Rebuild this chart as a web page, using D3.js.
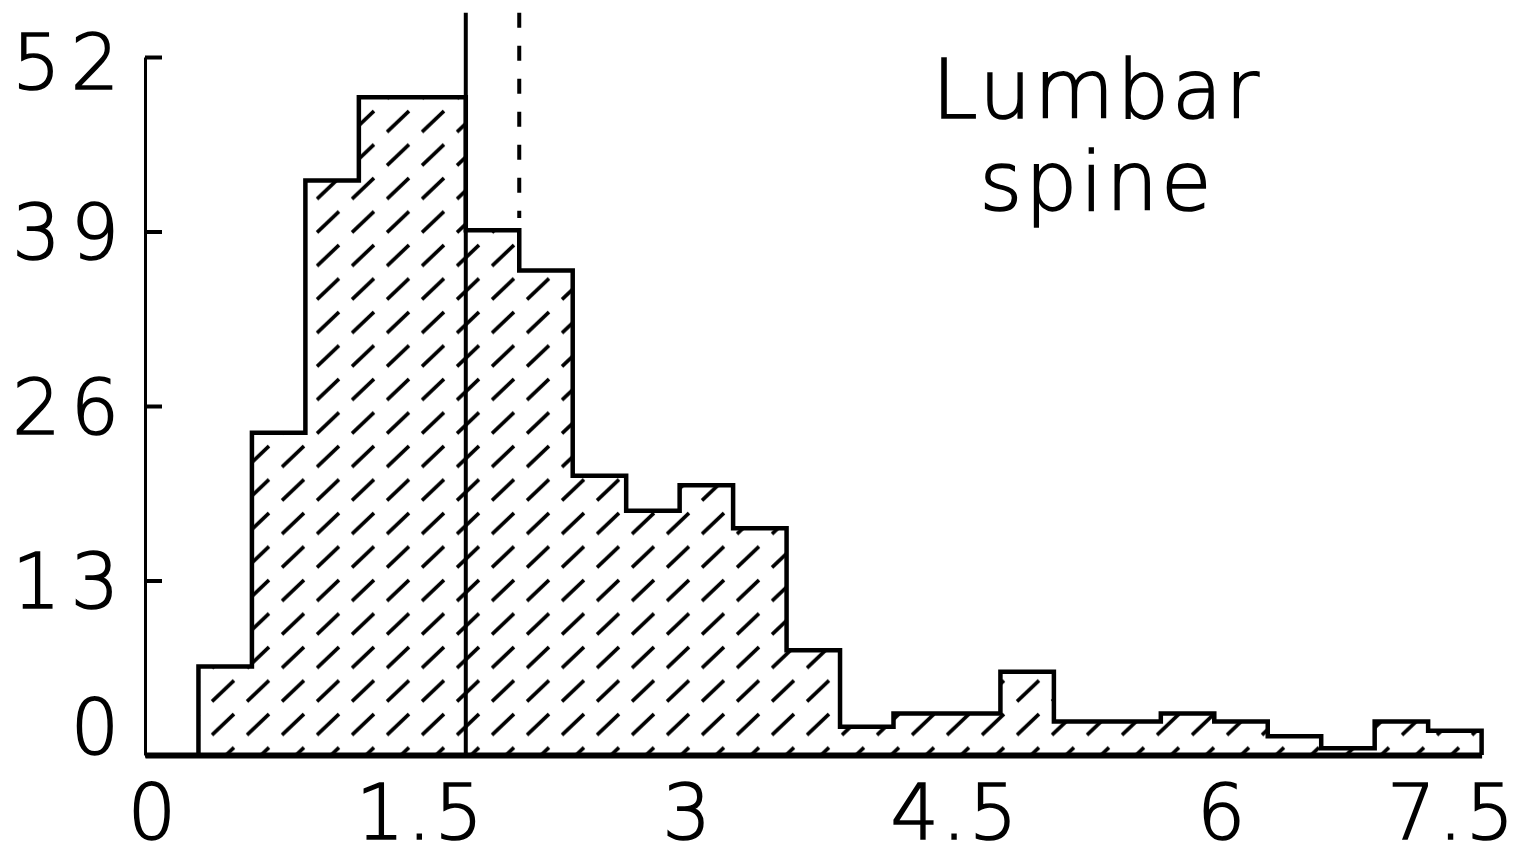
<!DOCTYPE html>
<meta charset="utf-8">
<style>
body { margin: 0; background: #fff; }
text { font-family: "DejaVu Sans", sans-serif; font-weight: 200; fill: #000; stroke: #000; stroke-width: 1.6px; }
.axis text { font-size: 76px; }
.axis path, .axis line { stroke: #000; }
</style>
<svg width="1527" height="856"></svg>
<script src="https://d3js.org/d3.v7.min.js"></script>
<script>

// histogram bins (lower edge, width 0.3) and heights
var binStarts = [0.3, 0.6, 0.9, 1.2, 1.5, 1.8, 2.1, 2.4, 2.7, 3.0, 3.3, 3.6,
                 3.9, 4.2, 4.5, 4.8, 5.1, 5.4, 5.7, 6.0, 6.3, 6.6, 6.9, 7.2];
var binWidth = 0.3;
var counts = [6.6, 24, 42.8, 49, 49, 39.1, 36.1, 20.8, 18.2, 20.1, 16.9, 7.8,
              2.1, 3.1, 3.1, 6.2, 2.5, 2.5, 3.1, 2.5, 1.4, 0.5, 2.5, 1.8];

var xTicks = [0, 1.5, 3, 4.5, 6, 7.5];
var yTicks = [0, 13, 26, 39, 52];

// vertical reference lines
var solidMarker = 1.8;
var dashedMarker = 2.1;
var markerTop = 55.3;
var dashedBottom = 40;

var labelLines = ["Lumbar", "spine"];

var svg = d3.select("svg");

var x = d3.scaleLinear().domain([0, 7.5]).range([145, 1481.6]);
var y = d3.scaleLinear().domain([0, 52]).range([755, 57]);

var defs = svg.append("defs");
var pat = defs.append("pattern")
    .attr("id", "hatch")
    .attr("patternUnits", "userSpaceOnUse")
    .attr("x", 34).attr("y", 4.5)
    .attr("width", 35).attr("height", 33.5);
pat.append("path")
    .attr("d", "M3,27L25,6")
    .attr("stroke", "#000")
    .attr("stroke-width", 3.6);

var pts = binStarts.map(function(s, i) { return { x: s, v: counts[i] }; });
var last = binStarts[binStarts.length - 1] + binWidth;
pts.push({ x: last, v: counts[counts.length - 1] });

var area = d3.area()
    .curve(d3.curveStepAfter)
    .x(function(d) { return x(d.x); })
    .y0(y(0))
    .y1(function(d) { return y(d.v); });

svg.append("path")
    .datum(pts)
    .attr("fill", "url(#hatch)")
    .attr("d", area);

var outlinePts = [{ x: binStarts[0], v: 0 }].concat(pts, [{ x: last, v: 0 }]);
var line = d3.line()
    .curve(d3.curveStepAfter)
    .x(function(d) { return x(d.x); })
    .y(function(d) { return y(d.v); });

svg.append("path")
    .datum(outlinePts)
    .attr("fill", "none")
    .attr("stroke", "#000")
    .attr("stroke-width", 4.5)
    .attr("d", line);

// markers
svg.append("line")
    .attr("x1", x(solidMarker)).attr("x2", x(solidMarker))
    .attr("y1", y(markerTop)).attr("y2", y(0))
    .attr("stroke", "#000").attr("stroke-width", 4);

svg.append("line")
    .attr("x1", x(dashedMarker)).attr("x2", x(dashedMarker))
    .attr("y1", y(markerTop)).attr("y2", y(dashedBottom))
    .attr("stroke", "#000").attr("stroke-width", 4)
    .attr("stroke-dasharray", "15,18");

// axes
var yAxis = svg.append("g")
    .attr("class", "axis")
    .attr("transform", "translate(" + x(0) + ",0)")
    .call(d3.axisLeft(y).tickValues(yTicks).tickSize(-17).tickSizeOuter(0).tickPadding(16));
yAxis.select(".domain").attr("stroke-width", 3);
yAxis.selectAll(".tick line").attr("stroke-width", 4);
yAxis.selectAll(".tick text")
    .attr("font-family", null)
    .attr("font-size", null)
    .attr("letter-spacing", 10)
    .attr("dy", function(d) { return d === 0 ? "-0.02em" : d === 52 ? "0.42em" : "0.36em"; });

var xAxis = svg.append("g")
    .attr("class", "axis")
    .attr("transform", "translate(0," + y(0) + ")")
    .call(d3.axisBottom(x).tickValues(xTicks).tickSize(0).tickSizeOuter(0).tickPadding(30)
      .tickFormat(function(d) { return d; }));
xAxis.select(".domain").attr("stroke-width", 6);
xAxis.selectAll(".tick text")
    .attr("font-family", null)
    .attr("font-size", null)
    .attr("letter-spacing", 3)
    .attr("dx", function(d) { return d === 7.5 ? -30 : 8; });

svg.append("g").selectAll("text")
    .data(labelLines)
    .enter().append("text")
    .attr("x", 1097)
    .attr("y", function(d, i) { return 118 + i * 92; })
    .attr("text-anchor", "middle")
    .attr("font-size", 82)
    .attr("letter-spacing", 3)
    .text(function(d) { return d; });

</script>
